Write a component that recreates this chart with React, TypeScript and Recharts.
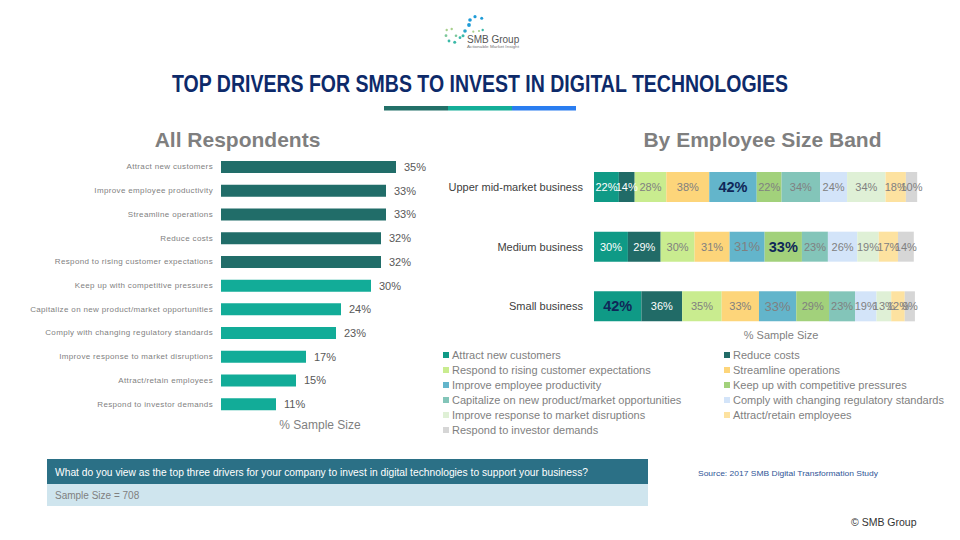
import React from 'react';
import { BarChart, Bar, XAxis, YAxis, LabelList, Cell } from 'recharts';

// ---------- DATA ----------
const driverLabels = [
  'Attract new customers',
  'Improve employee productivity',
  'Streamline operations',
  'Reduce costs',
  'Respond to rising customer expectations',
  'Keep up with competitive pressures',
  'Capitalize on new product/market opportunities',
  'Comply with changing regulatory standards',
  'Improve response to market disruptions',
  'Attract/retain employees',
  'Respond to investor demands',
];
const allRespondents = [35, 33, 33, 32, 32, 30, 24, 23, 17, 15, 11];

const sizeBands = ['Upper mid-market business', 'Medium business', 'Small business'];
const seriesNames = [
  'Attract new customers',
  'Reduce costs',
  'Respond to rising customer expectations',
  'Streamline operations',
  'Improve employee productivity',
  'Keep up with competitive pressures',
  'Capitalize on new product/market opportunities',
  'Comply with changing regulatory standards',
  'Improve response to market disruptions',
  'Attract/retain employees',
  'Respond to investor demands',
];
const attractNewCustomers = [22, 30, 42];
const reduceCosts = [14, 29, 36];
const respondRising = [28, 30, 35];
const streamlineOps = [38, 31, 33];
const improveProductivity = [42, 31, 33];
const keepUpCompetitive = [22, 33, 29];
const capitalizeOpportunities = [34, 23, 23];
const complyRegulatory = [24, 26, 19];
const improveResponse = [34, 19, 13];
const attractRetain = [18, 17, 12];
const investorDemands = [10, 14, 9];

const seriesValues = [
  attractNewCustomers, reduceCosts, respondRising, streamlineOps, improveProductivity,
  keepUpCompetitive, capitalizeOpportunities, complyRegulatory, improveResponse,
  attractRetain, investorDemands,
];

// ---------- STYLES ----------
const seriesColors = [
  '#0F9A86', '#216B67', '#C9EC8F', '#FDD57A', '#63B5CB', '#A2D17B',
  '#83C5B9', '#D3E4F9', '#DFF0D6', '#FDE2A0', '#D6D6D6',
];
const FONT = '"Liberation Sans", Arial, sans-serif';

const leftData = driverLabels.map((name, i) => ({ name, value: allRespondents[i] }));
const rightData = sizeBands.map((band, r) => {
  const row: any = { band };
  seriesValues.forEach((vals, i) => { row['s' + i] = vals[r]; });
  return row;
});

const makeSegLabel = (si: number) => (props: any) => {
  const vb = props.viewBox || {};
  const x = props.x ?? vb.x;
  const y = props.y ?? vb.y;
  const width = props.width ?? vb.width;
  const height = props.height ?? vb.height;
  const { value, index } = props;
  const rowMax = Math.max(...seriesValues.map((v) => v[index]));
  let fill = '#808080';
  let size = 11;
  let weight: any = 'normal';
  if (value === rowMax) { fill = '#0F2758'; size = 14.5; weight = 'bold'; }
  else if (si < 2) fill = '#ffffff';
  else if (si === 4) size = 13;
  return (
    <text x={x + width / 2} y={y + height / 2} textAnchor="middle" dominantBaseline="central"
      fill={fill} fontSize={size} fontWeight={weight} fontFamily={FONT}>
      {value}%
    </text>
  );
};

const LeftTick = (props: any) => {
  const { x, y, payload } = props;
  return (
    <text x={x} y={y} textAnchor="end" dominantBaseline="central" fontSize={8} fill="#7F7F7F"
      fontFamily={FONT} letterSpacing={0.35}>
      {payload.value}
    </text>
  );
};

const RightTick = (props: any) => {
  const { x, y, payload } = props;
  return (
    <text x={x} y={y} textAnchor="end" dominantBaseline="central" fontSize={11} fill="#404040"
      fontFamily={FONT}>
      {payload.value}
    </text>
  );
};

const logoDots: [number, number, number, string][] = [
  [470, 20, 1.8, '#1E9BD7'], [475, 16.7, 1.6, '#1E9BD7'], [481.7, 18.3, 1.5, '#1E9BD7'],
  [469, 25, 1.9, '#1E9BD7'], [465, 31, 1.8, '#2AA6C9'], [463, 35.7, 1.5, '#3BB9A8'],
  [460, 37.7, 1.4, '#3BB9A8'], [456, 35.7, 1.3, '#7CC79A'], [451.7, 29, 1.2, '#A8D08D'],
  [446.7, 30, 1.2, '#A8D08D'], [446, 35.7, 1.4, '#7CC79A'], [449, 41, 1.4, '#3BB9A8'],
  [454.7, 42.3, 1.5, '#3BB9A8'], [473.3, 31.7, 1.1, '#A8D08D'], [479, 31, 1.1, '#A8D08D'],
  [482.7, 30, 1.2, '#3BB9A8'],
];

export default function App() {
  return (
    <div style={{ position: 'absolute', left: 0, top: 0, width: 960, height: 540, background: '#fff', overflow: 'hidden', fontFamily: FONT }}>
      <svg width={960} height={540} style={{ position: 'absolute', left: 0, top: 0 }}>
        {/* logo */}
        {logoDots.map(([cx, cy, r, c], i) => (
          <circle key={i} cx={cx} cy={cy} r={r} fill={c} />
        ))}
        <text x={467} y={43} fontSize={10} fill="#555" fontFamily={FONT}>SMB Group</text>
        <text x={467} y={47.5} fontSize={3.5} fill="#777" fontFamily={FONT} textLength={52} lengthAdjust="spacingAndGlyphs">Actionable Market Insight</text>

        {/* title */}
        <text x={480} y={92} textAnchor="middle" fontSize={24} fontWeight="bold" fill="#0D2A6A"
          fontFamily={'"Liberation Sans Narrow", ' + FONT} textLength={616} lengthAdjust="spacingAndGlyphs">
          TOP DRIVERS FOR SMBS TO INVEST IN DIGITAL TECHNOLOGIES
        </text>
        <rect x={384} y={106} width={64} height={4.5} fill="#227068" />
        <rect x={448} y={106} width={64} height={4.5} fill="#14AE98" />
        <rect x={512} y={106} width={64} height={4.5} fill="#2A7DF0" />

        {/* section titles */}
        <text x={237.5} y={147} textAnchor="middle" fontSize={21} fontWeight="bold" fill="#7F7F7F" fontFamily={FONT}>All Respondents</text>
        <text x={762.5} y={147} textAnchor="middle" fontSize={21} fontWeight="bold" fill="#7F7F7F" fontFamily={FONT}>By Employee Size Band</text>

        <text x={320} y={425} textAnchor="middle" dominantBaseline="central" fontSize={12} fill="#7F7F7F" fontFamily={FONT}>% Sample Size</text>
        <text x={781} y={335} textAnchor="middle" dominantBaseline="central" fontSize={11} fill="#7F7F7F" fontFamily={FONT}>% Sample Size</text>

        {/* legend */}
        {seriesNames.map((name, i) => {
          const col = i % 2;
          const row = Math.floor(i / 2);
          const x = col === 0 ? 443 : 724;
          const y = 355 + row * 15;
          return (
            <g key={name}>
              <rect x={x} y={y - 3} width={6} height={6} fill={seriesColors[i]} />
              <text x={x + 9} y={y} dominantBaseline="central" fontSize={11} fill="#7F7F7F" fontFamily={FONT}>{name}</text>
            </g>
          );
        })}

        {/* question box */}
        <rect x={47} y={459} width={601} height={25} fill="#2B7086" />
        <rect x={47} y={484} width={601} height={22} fill="#CFE5EE" />
        <text x={55} y={472} dominantBaseline="central" fontSize={10} fill="#ffffff" fontFamily={FONT} textLength={533} lengthAdjust="spacingAndGlyphs">
          What do you view as the top three drivers for your company to invest in digital technologies to support your business?
        </text>
        <text x={55} y={495} dominantBaseline="central" fontSize={10} fill="#808080" fontFamily={FONT}>Sample Size = 708</text>

        <text x={698} y={476} fontSize={8} fill="#2F5597" fontFamily={FONT} textLength={180} lengthAdjust="spacingAndGlyphs">Source:  2017 SMB Digital Transformation  Study</text>
        <text x={851} y={522} dominantBaseline="central" fontSize={10.5} fill="#333" fontFamily={FONT}>© SMB Group</text>
      </svg>

      {/* left chart */}
      <div style={{ position: 'absolute', left: 0, top: 0 }}>
        <BarChart width={440} height={430} data={leftData} layout="vertical"
          margin={{ top: 155, right: 19, bottom: 14, left: 8 }}>
          <XAxis type="number" domain={[0, 40]} hide />
          <YAxis type="category" dataKey="name" width={213} interval={0} axisLine={false} tickLine={false}
            tick={<LeftTick />} />
          <Bar dataKey="value" barSize={12} isAnimationActive={false}>
            {leftData.map((d, i) => (
              <Cell key={d.name} fill={i < 5 ? '#216D69' : '#12AC98'} />
            ))}
            <LabelList dataKey="value" position="right" offset={8} fill="#595959" fontSize={11}
              fontFamily={FONT} formatter={(v: any) => v + '%'} />
          </Bar>
        </BarChart>
      </div>

      {/* right chart */}
      <div style={{ position: 'absolute', left: 420, top: 0 }}>
        <BarChart width={540} height={350} data={rightData} layout="vertical"
          margin={{ top: 157, right: 27, bottom: 14, left: 10 }}>
          <XAxis type="number" domain={[0, 300]} hide />
          <YAxis type="category" dataKey="band" width={164} interval={0} axisLine={false} tickLine={false}
            tickMargin={5} tick={<RightTick />} />
          {seriesNames.map((name, i) => (
            <Bar key={name} dataKey={'s' + i} name={name} stackId="a" barSize={30}
              fill={seriesColors[i]} isAnimationActive={false}>
              <LabelList dataKey={'s' + i} content={makeSegLabel(i)} />
            </Bar>
          ))}
        </BarChart>
      </div>
    </div>
  );
}
